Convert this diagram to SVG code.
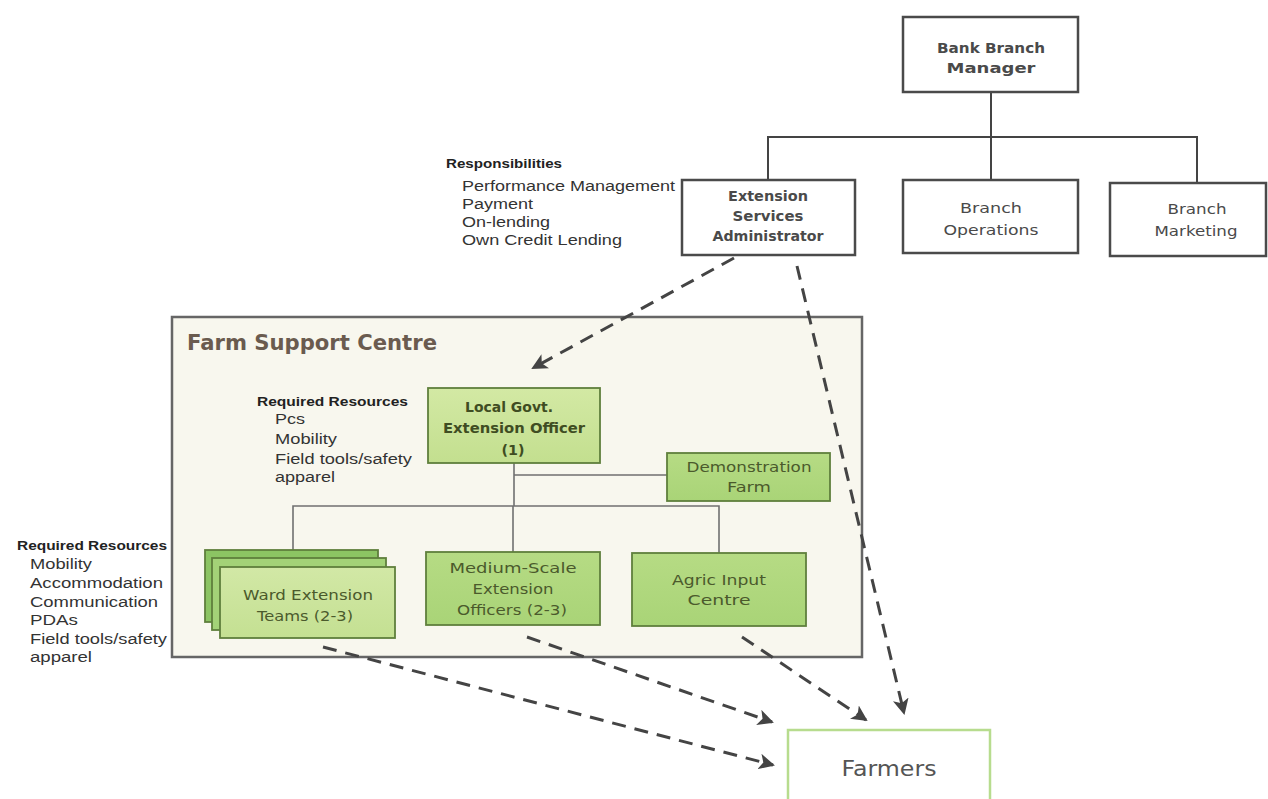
<svg xmlns="http://www.w3.org/2000/svg" width="1268" height="799" viewBox="0 0 1268 799">
<style>
.box{fill:#ffffff;stroke:#4a4a4a;stroke-width:2.5}
.gbox{stroke:#5f7f3c;stroke-width:1.8}
text{lengthAdjust:spacingAndGlyphs}
.t{font-family:"DejaVu Sans",sans-serif;font-size:14px;fill:#4a4a4a;text-anchor:middle}
.tb{font-family:"DejaVu Sans",sans-serif;font-size:14px;font-weight:bold;fill:#4a4a4a;text-anchor:middle}
.g{font-family:"DejaVu Sans",sans-serif;font-size:14px;fill:#4b5a2c;text-anchor:middle}
.gb{font-family:"DejaVu Sans",sans-serif;font-size:14px;font-weight:bold;fill:#3f4d22;text-anchor:middle}
.h{font-family:"Liberation Sans",Arial,sans-serif;font-size:12px;font-weight:bold;fill:#222}
.l{font-family:"Liberation Sans",Arial,sans-serif;font-size:14px;fill:#333}
.org{fill:none;stroke:#444;stroke-width:2}
.fl{fill:none;stroke:#707070;stroke-width:1.6}
.dash{fill:none;stroke:#444;stroke-width:3;stroke-dasharray:14 9;marker-end:url(#ah)}
</style>
<defs>
<marker id="ah" markerUnits="userSpaceOnUse" markerWidth="18" markerHeight="16" refX="14" refY="8" orient="auto">
<path d="M0,0 L16,8 L0,16 L4,8 Z" fill="#444"/>
</marker>
<linearGradient id="lg1" x1="0" y1="0" x2="0" y2="1"><stop offset="0" stop-color="#d3e9a4"/><stop offset="1" stop-color="#c3df8f"/></linearGradient>
<linearGradient id="lg2" x1="0" y1="0" x2="0" y2="1"><stop offset="0" stop-color="#b6db84"/><stop offset="1" stop-color="#a9d477"/></linearGradient>
<linearGradient id="lg3" x1="0" y1="0" x2="0" y2="1"><stop offset="0" stop-color="#d2e8a6"/><stop offset="1" stop-color="#c4e092"/></linearGradient>
</defs>
<rect width="1268" height="799" fill="#ffffff"/>

<g id="farm-support-centre">
<rect x="172" y="317" width="690" height="340" fill="#f8f7ee" stroke="#666" stroke-width="2.5"/>
<text x="187" y="350" font-family="DejaVu Sans,sans-serif" font-size="21" font-weight="bold" fill="#6a5b4f" textLength="250" lengthAdjust="spacingAndGlyphs">Farm Support Centre</text>
</g>

<g id="org-connectors">
<path class="org" d="M991,92 V180 M768,180 V137 H1197 V183"/>
<path class="fl" d="M514,463 V506 M514,475 H667 M293,550 V506 H719 V553 M513,506 V552"/>
</g>

<g id="bank-branch-manager">
<rect class="box" x="903" y="17" width="175" height="75"/>
<text class="tb" x="991" y="53" textLength="108" lengthAdjust="spacingAndGlyphs">Bank Branch</text>
<text class="tb" x="991" y="73" textLength="89" lengthAdjust="spacingAndGlyphs">Manager</text>
</g>

<g id="extension-services-administrator">
<rect class="box" x="682" y="180" width="173" height="75"/>
<text class="tb" x="768" y="201" textLength="80" lengthAdjust="spacingAndGlyphs">Extension</text>
<text class="tb" x="768" y="221" textLength="71" lengthAdjust="spacingAndGlyphs">Services</text>
<text class="tb" x="768" y="241" textLength="111" lengthAdjust="spacingAndGlyphs">Administrator</text>
</g>

<g id="branch-operations">
<rect class="box" x="903" y="180" width="175" height="73"/>
<text class="t" x="991" y="213" textLength="62" lengthAdjust="spacingAndGlyphs">Branch</text>
<text class="t" x="991" y="235" textLength="95" lengthAdjust="spacingAndGlyphs">Operations</text>
</g>

<g id="branch-marketing">
<rect class="box" x="1110" y="183" width="156" height="73"/>
<text class="t" x="1197" y="214" textLength="59" lengthAdjust="spacingAndGlyphs">Branch</text>
<text class="t" x="1196" y="236" textLength="83" lengthAdjust="spacingAndGlyphs">Marketing</text>
</g>

<g id="responsibilities">
<text class="h" x="446" y="168" textLength="116" lengthAdjust="spacingAndGlyphs">Responsibilities</text>
<text class="l" x="462" y="191" textLength="213" lengthAdjust="spacingAndGlyphs">Performance Management</text>
<text class="l" x="462" y="209" textLength="71" lengthAdjust="spacingAndGlyphs">Payment</text>
<text class="l" x="462" y="227" textLength="88" lengthAdjust="spacingAndGlyphs">On-lending</text>
<text class="l" x="462" y="245" textLength="160" lengthAdjust="spacingAndGlyphs">Own Credit Lending</text>
</g>

<g id="local-govt-extension-officer">
<rect class="gbox" x="428" y="388" width="172" height="75" fill="url(#lg1)"/>
<text class="gb" x="509" y="412" textLength="88" lengthAdjust="spacingAndGlyphs">Local Govt.</text>
<text class="gb" x="514" y="433" textLength="142" lengthAdjust="spacingAndGlyphs">Extension Officer</text>
<text class="gb" x="513" y="455" textLength="23" lengthAdjust="spacingAndGlyphs">(1)</text>
</g>

<g id="required-resources-1">
<text class="h" x="257" y="406" textLength="151" lengthAdjust="spacingAndGlyphs">Required Resources</text>
<text class="l" x="275" y="424" textLength="30" lengthAdjust="spacingAndGlyphs">Pcs</text>
<text class="l" x="275" y="444" textLength="62" lengthAdjust="spacingAndGlyphs">Mobility</text>
<text class="l" x="275" y="464" textLength="137" lengthAdjust="spacingAndGlyphs">Field tools/safety</text>
<text class="l" x="275" y="482" textLength="60" lengthAdjust="spacingAndGlyphs">apparel</text>
</g>

<g id="demonstration-farm">
<rect class="gbox" x="667" y="453" width="163" height="48" fill="url(#lg2)"/>
<text class="g" x="749" y="472" textLength="125" lengthAdjust="spacingAndGlyphs">Demonstration</text>
<text class="g" x="749" y="492" textLength="44" lengthAdjust="spacingAndGlyphs">Farm</text>
</g>

<g id="ward-extension-teams">
<rect class="gbox" x="205" y="550" width="173" height="72" fill="#8cc463"/>
<rect class="gbox" x="212" y="558" width="174" height="72" fill="#a3d277"/>
<rect class="gbox" x="220" y="567" width="175" height="71" fill="url(#lg3)"/>
<text class="g" x="308" y="600" textLength="130" lengthAdjust="spacingAndGlyphs">Ward Extension</text>
<text class="g" x="305" y="621" textLength="96" lengthAdjust="spacingAndGlyphs">Teams (2-3)</text>
</g>

<g id="medium-scale-extension-officers">
<rect class="gbox" x="426" y="552" width="174" height="73" fill="url(#lg2)"/>
<text class="g" x="513" y="573" textLength="127" lengthAdjust="spacingAndGlyphs">Medium-Scale</text>
<text class="g" x="513" y="594" textLength="81" lengthAdjust="spacingAndGlyphs">Extension</text>
<text class="g" x="512" y="615" textLength="110" lengthAdjust="spacingAndGlyphs">Officers (2-3)</text>
</g>

<g id="agric-input-centre">
<rect class="gbox" x="632" y="553" width="174" height="73" fill="url(#lg2)"/>
<text class="g" x="719" y="585" textLength="94" lengthAdjust="spacingAndGlyphs">Agric Input</text>
<text class="g" x="719" y="605" textLength="63" lengthAdjust="spacingAndGlyphs">Centre</text>
</g>

<g id="required-resources-2">
<text class="h" x="17" y="550" textLength="150" lengthAdjust="spacingAndGlyphs">Required Resources</text>
<text class="l" x="30" y="569" textLength="62" lengthAdjust="spacingAndGlyphs">Mobility</text>
<text class="l" x="30" y="588" textLength="133" lengthAdjust="spacingAndGlyphs">Accommodation</text>
<text class="l" x="30" y="607" textLength="128" lengthAdjust="spacingAndGlyphs">Communication</text>
<text class="l" x="30" y="625" textLength="48" lengthAdjust="spacingAndGlyphs">PDAs</text>
<text class="l" x="30" y="644" textLength="137" lengthAdjust="spacingAndGlyphs">Field tools/safety</text>
<text class="l" x="30" y="662" textLength="62" lengthAdjust="spacingAndGlyphs">apparel</text>
</g>

<g id="farmers">
<rect x="788" y="730" width="202" height="80" fill="#ffffff" stroke="#b7dc8e" stroke-width="2.5"/>
<text x="889" y="776" font-family="DejaVu Sans,sans-serif" font-size="21" fill="#555" text-anchor="middle" textLength="95" lengthAdjust="spacingAndGlyphs">Farmers</text>
</g>

<g id="dashed-connectors">
<path class="dash" d="M734,258 L533,368"/>
<path class="dash" d="M797,266 L904,713"/>
<path class="dash" d="M527,637 L772,722"/>
<path class="dash" d="M323,647 L773,765"/>
<path class="dash" d="M742,637 L866,720"/>
</g>
</svg>
